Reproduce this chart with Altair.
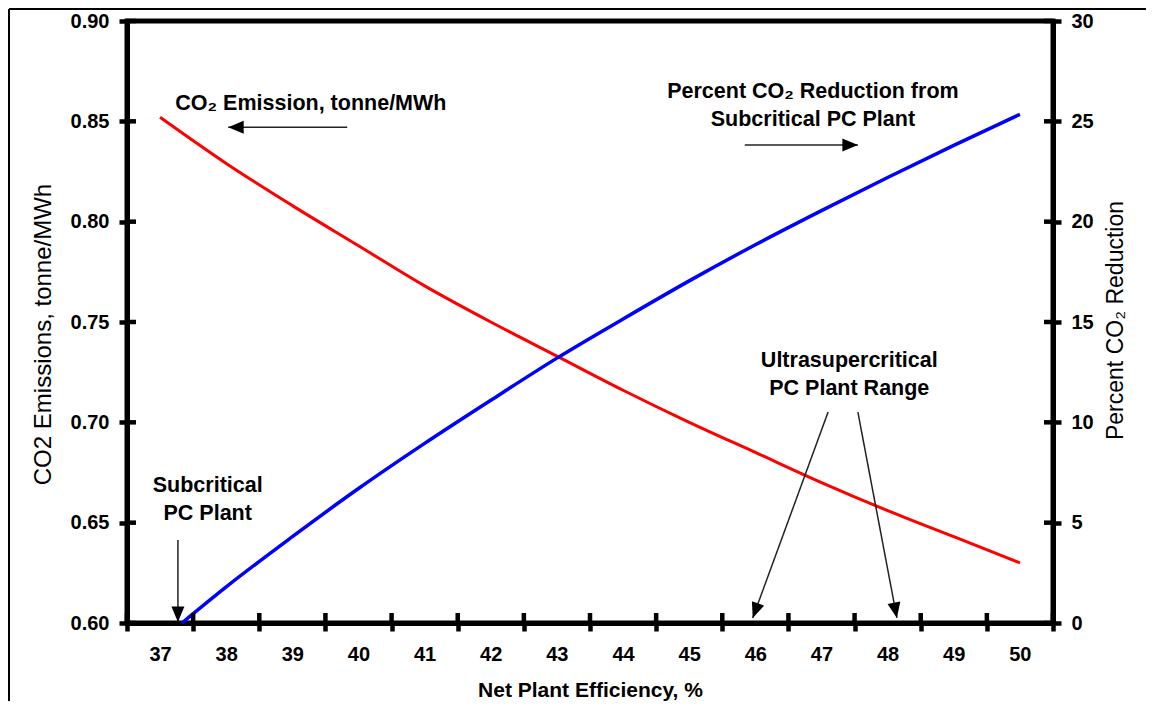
import altair as alt
import pandas as pd

# ---- data ----
efficiency = [37, 38, 39, 40, 41, 42, 43, 44, 45, 46, 47, 48, 49, 50]
co2_emission = [0.852, 0.829, 0.808, 0.788, 0.768, 0.750, 0.733, 0.716,
                0.700, 0.685, 0.670, 0.656, 0.643, 0.630]

reduction_eff = [37.33, 38, 39, 40, 41, 42, 43, 44, 45, 46, 47, 48, 49, 50]
pct_reduction = [0.0, 1.8, 4.3, 6.7, 8.95, 11.1, 13.2, 15.15, 17.05, 18.85,
                 20.55, 22.2, 23.8, 25.35]

left_ticks = [0.60, 0.65, 0.70, 0.75, 0.80, 0.85, 0.90]
right_ticks = [0, 5, 10, 15, 20, 25, 30]
x_tick_pos = [36.5, 37.5, 38.5, 39.5, 40.5, 41.5, 42.5, 43.5, 44.5, 45.5,
              46.5, 47.5, 48.5, 49.5, 50.5]

ann_text = ["CO₂ Emission, tonne/MWh", "Percent CO₂ Reduction from",
            "Subcritical PC Plant", "Ultrasupercritical", "PC Plant Range",
            "Subcritical", "PC Plant"]
ann_x = [39.28, 46.87, 46.87, 47.42, 47.42, 37.72, 37.72]
ann_y = [0.8586, 0.8646, 0.8507, 0.7306, 0.7166, 0.6683, 0.6543]

arrow_x0 = [39.83, 45.84, 47.10, 47.55, 37.27]
arrow_y0 = [0.847, 0.8382, 0.7051, 0.7051, 0.6414]
arrow_x1 = [38.03, 47.55, 45.96, 48.14, 37.27]
arrow_y1 = [0.847, 0.8382, 0.6025, 0.6025, 0.6005]
arrow_angle = [270, 90, 200, 169, 180]

# ---- tables ----
df_red = pd.DataFrame({"eff": efficiency, "co2": co2_emission})
df_blue = pd.DataFrame({"eff": reduction_eff, "pct": pct_reduction})
df_lt = pd.DataFrame({"v": left_ticks})
df_rt = pd.DataFrame({"v": right_ticks})
df_xt = pd.DataFrame({"v": x_tick_pos})
df_ann = pd.DataFrame({"t": ann_text, "x": ann_x, "y": ann_y})
df_arr = pd.DataFrame({"x0": arrow_x0, "y0": arrow_y0, "x1": arrow_x1,
                       "y1": arrow_y1, "ang": arrow_angle})
df_one = pd.DataFrame({"a": [0]})

W, H = 926, 602
FONT = "Liberation Sans"

xscale = alt.Scale(domain=[36.5, 50.5], nice=False, zero=False)
yl = alt.Scale(domain=[0.6, 0.9], nice=False, zero=False)
yr = alt.Scale(domain=[0, 30], nice=False, zero=True)

x_axis = alt.Axis(
    values=x_tick_pos,
    labelExpr="datum.value < 50.4 ? format(datum.value + 0.5, 'd') : ''",
    labelOffset=33, labelFlush=False, labelPadding=13,
    labelFontSize=20, labelFontWeight="bold",
    title="Net Plant Efficiency, %", titleFontSize=21, titleFontWeight="bold",
    titleX=W / 2, titleY=67, titleBaseline="middle", titleAlign="center",
)
left_axis = alt.Axis(
    orient="left", values=left_ticks, format=".2f", labelPadding=10,
    labelFontSize=20, labelFontWeight="bold",
    title="CO2 Emissions, tonne/MWh", titleFontSize=24, titleFontWeight="normal",
    titleAngle=270, titleX=-84, titleY=313, titleBaseline="middle", titleAlign="center",
)
right_axis = alt.Axis(
    orient="right", values=right_ticks, format="d", labelPadding=10,
    labelFontSize=20, labelFontWeight="bold",
    title="Percent CO₂ Reduction", titleFontSize=23, titleFontWeight="normal",
    titleAngle=270, titleX=62, titleY=299, titleBaseline="middle", titleAlign="center",
)

red = alt.Chart(df_red).mark_line(color="#ff0000", strokeWidth=3, interpolate="monotone").encode(
    x=alt.X("eff:Q", scale=xscale, axis=x_axis),
    y=alt.Y("co2:Q", scale=yl, axis=left_axis),
)
blue = alt.Chart(df_blue).mark_line(color="#0000ff", strokeWidth=3.5, interpolate="monotone").encode(
    x=alt.X("eff:Q", scale=xscale),
    y=alt.Y("pct:Q", scale=yr, axis=right_axis),
)

lt_rules = alt.Chart(df_lt).mark_rule(color="black", strokeWidth=4.5).encode(
    y=alt.Y("v:Q", scale=yl, axis=None), x=alt.value(0), x2=alt.value(9)
)
rt_rules = alt.Chart(df_rt).mark_rule(color="black", strokeWidth=4.5).encode(
    y=alt.Y("v:Q", scale=yr, axis=None), x=alt.value(W - 9), x2=alt.value(W)
)
xt_rules = alt.Chart(df_xt).mark_rule(color="black", strokeWidth=4.5).encode(
    x=alt.X("v:Q", scale=xscale), y=alt.value(H - 10), y2=alt.value(H)
)

arr_lines = alt.Chart(df_arr).mark_rule(color="#222222", strokeWidth=1.5).encode(
    x=alt.X("x0:Q", scale=xscale),
    y=alt.Y("y0:Q", scale=yl, axis=None),
    x2="x1:Q", y2="y1:Q",
)
arr_heads = alt.Chart(df_arr).mark_point(
    shape="M0,0L-0.42,1L0.42,1Z", filled=True, color="black", size=960, opacity=1
).encode(
    x=alt.X("x1:Q", scale=xscale),
    y=alt.Y("y1:Q", scale=yl, axis=None),
    angle=alt.Angle("ang:Q", scale=None),
)
texts = alt.Chart(df_ann).mark_text(
    font=FONT, fontSize=21.5, fontWeight="bold", color="black",
    align="center", baseline="middle"
).encode(
    x=alt.X("x:Q", scale=xscale),
    y=alt.Y("y:Q", scale=yl, axis=None),
    text="t:N",
)

frame_left = alt.Chart(df_one).mark_rule(color="black", strokeWidth=2).encode(
    x=alt.value(-118), y=alt.value(-12), y2=alt.value(H + 200)
)
frame_top = alt.Chart(df_one).mark_rule(color="black", strokeWidth=2).encode(
    x=alt.value(-118), x2=alt.value(W + 200), y=alt.value(-12)
)

chart = alt.layer(
    red, blue, lt_rules, rt_rules, xt_rules, arr_lines, arr_heads, texts,
    frame_left, frame_top,
).resolve_scale(y="independent").properties(
    width=W, height=H,
    autosize=alt.AutoSizeParams(type="none"),
    padding={"left": 119, "top": 13, "right": 93, "bottom": 78},
    background="white",
).configure_view(
    stroke="black", strokeWidth=5
).configure_axis(
    grid=False, domainColor="black", domainWidth=5,
    tickColor="black", tickWidth=4.5, tickSize=8,
    labelColor="black", titleColor="black",
    labelFont=FONT, titleFont=FONT,
).configure_text(font=FONT)

chart.save("out.html", embed_options={"renderer": "svg", "actions": False})
